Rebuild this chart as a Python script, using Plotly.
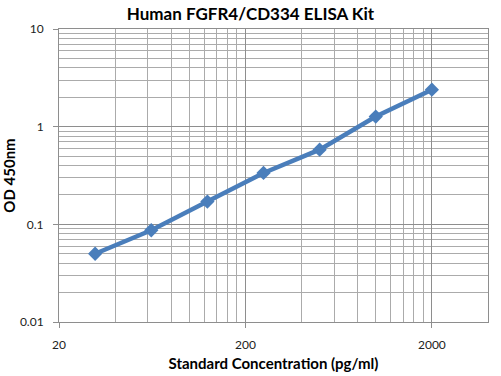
import plotly.graph_objects as go

concentration = [31.25, 62.5, 125, 250, 500, 1000, 2000]
od450 = [0.050, 0.087, 0.171, 0.336, 0.581, 1.27, 2.39]

x_ticks = [20, 200, 2000]
x_tick_text = ["20", "200", "2000"]
x_minor = [40, 60, 80, 100, 120, 140, 160, 180,
           400, 600, 800, 1000, 1200, 1400, 1600, 1800, 4000]
y_ticks = [0.01, 0.1, 1, 10]
y_tick_text = ["0.01", "0.1", "1", "10"]
y_minor = [m * d for d in (0.01, 0.1, 1) for m in range(2, 10)]

FONT = "Lato"
blue = "#4A7EBB"
grid = "#ABABAB"
major = "#8E8E8E"

fig = go.Figure(go.Scatter(
    x=concentration, y=od450, mode="lines+markers",
    line=dict(color=blue, width=4.5),
    marker=dict(symbol="diamond", size=11, color=blue),
))

fig.update_layout(
    width=501, height=376,
    margin=dict(l=59, r=13, t=29, b=54),
    paper_bgcolor="white", plot_bgcolor="white",
    showlegend=False,
    title=dict(text="<b>Human FGFR4/CD334 ELISA Kit</b>", x=0.5, xanchor="center",
               y=0.963, yanchor="middle",
               font=dict(family=FONT, size=17, color="black")),
    font=dict(family=FONT, size=12, color="#222222"),
)

fig.update_xaxes(
    type="log", range=[1.30103, 3.60206], automargin=False,
    tickmode="array", tickvals=x_ticks, ticktext=x_tick_text,
    ticks="outside", ticklen=5, tickcolor=major, tickwidth=1,
    ticklabelstandoff=7,
    showgrid=True, gridcolor=major, gridwidth=1,
    minor=dict(tickmode="array", tickvals=x_minor, showgrid=True,
               gridcolor=grid, gridwidth=1, ticks=""),
    showline=True, linecolor=major, linewidth=1, mirror=True,
    zeroline=False,
    tickfont=dict(size=12, color="#222222"),
    title=dict(text="<b>Standard Concentration (pg/ml)</b>", standoff=7,
               font=dict(size=15, color="black")),
)

fig.update_yaxes(
    type="log", range=[-2, 1], automargin=False,
    tickmode="array", tickvals=y_ticks, ticktext=y_tick_text,
    ticks="outside", ticklen=5, tickcolor=major, tickwidth=1,
    ticklabelstandoff=7,
    showgrid=True, gridcolor=major, gridwidth=1,
    minor=dict(tickmode="array", tickvals=y_minor, showgrid=True,
               gridcolor=grid, gridwidth=1, ticks=""),
    showline=True, linecolor=major, linewidth=1, mirror=True,
    zeroline=False,
    tickfont=dict(size=12, color="#222222"),
    title=dict(text="<b>OD 450nm</b>", standoff=4,
               font=dict(size=15, color="black")),
)

fig.write_html("out.html", config={"displayModeBar": False},
               post_script="document.body.style.margin='0';")
